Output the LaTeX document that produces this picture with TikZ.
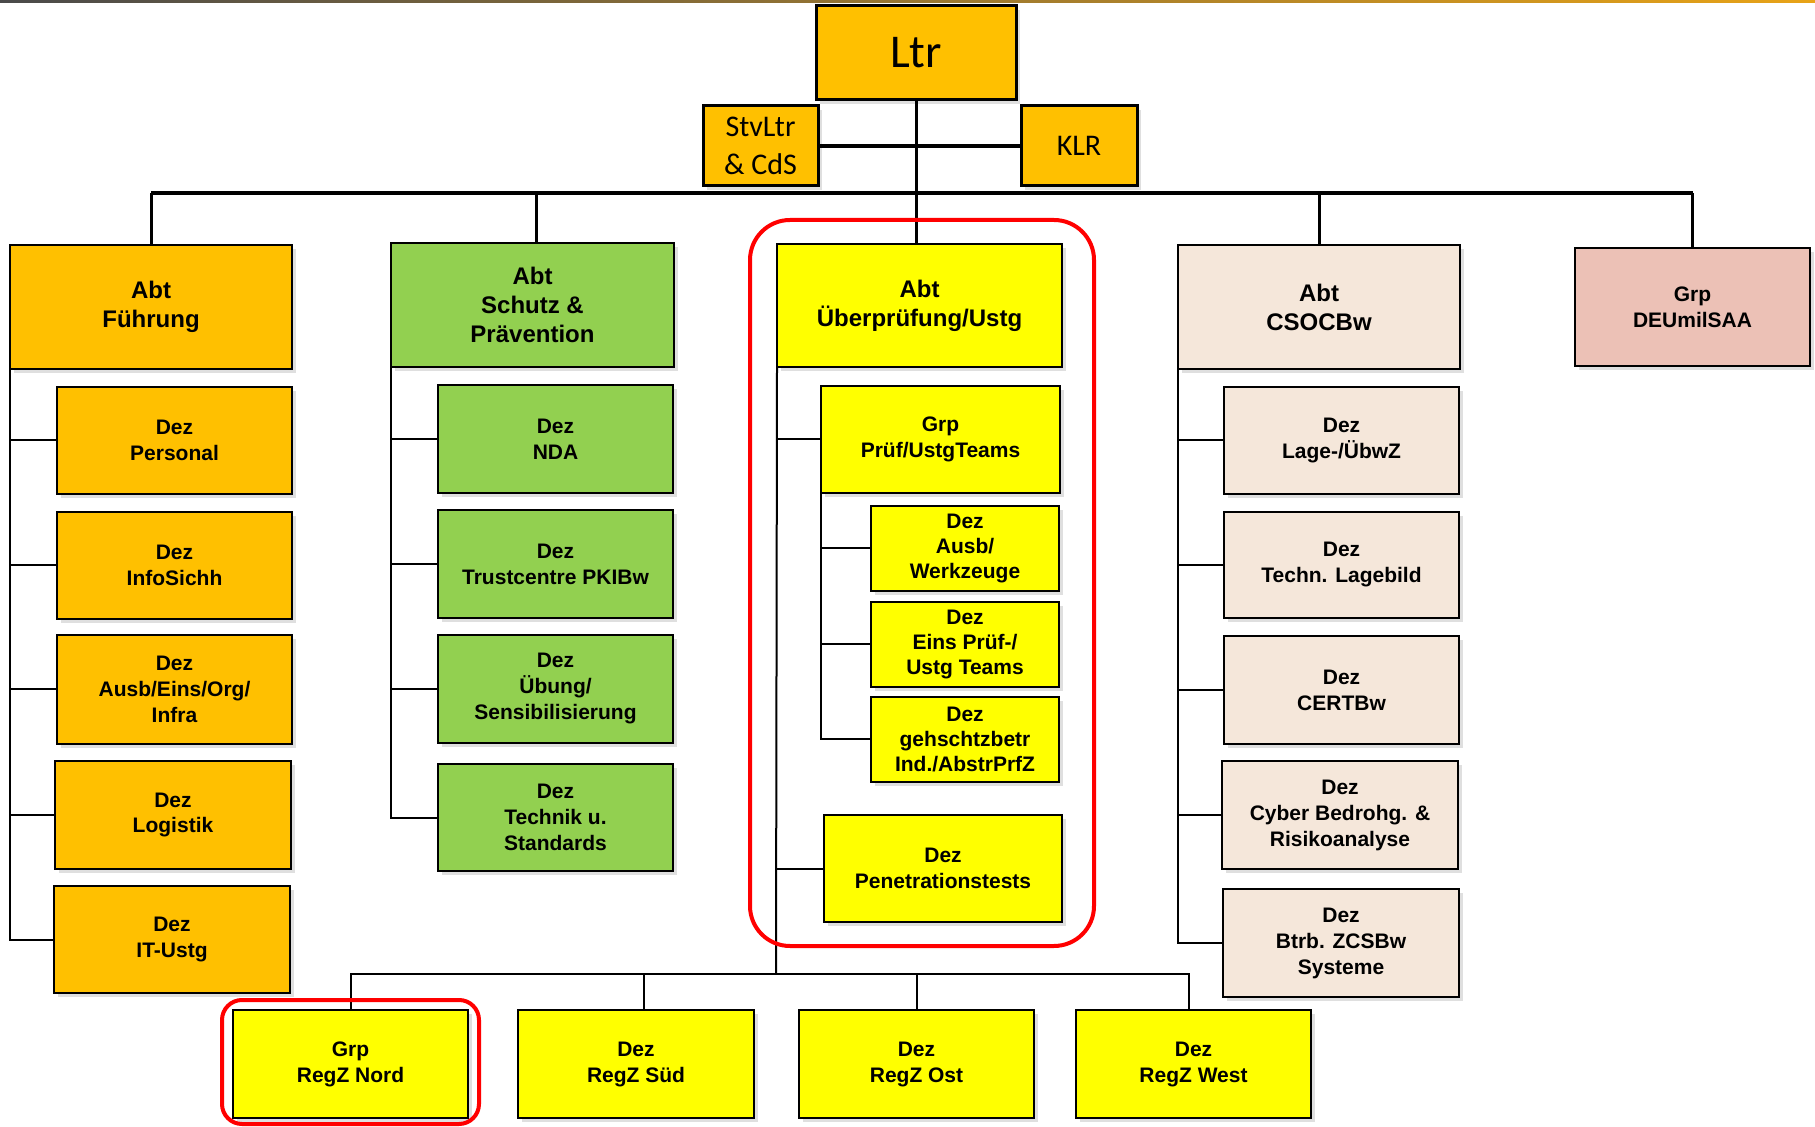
\documentclass[tikz,border=0pt]{standalone}
\usepackage{fontspec}
\setmainfont{Liberation Sans}
\newfontfamily\calib{Carlito}
\usetikzlibrary{shadows}
\definecolor{cOrange}{HTML}{FFC000}
\definecolor{cGreen}{HTML}{92D050}
\definecolor{cYellow}{HTML}{FFFF00}
\definecolor{cBeige}{HTML}{F5E7DA}
\definecolor{cPink}{HTML}{ECC1B6}
\definecolor{cRed}{HTML}{FF0000}
\definecolor{cTopL}{HTML}{4A4A4A}
\definecolor{cTopR}{HTML}{E8A317}
\tikzset{
  box/.style={draw=black, line width=1.2pt, inner sep=0pt, outer sep=0pt, align=center,
    drop shadow={shadow xshift=2pt, shadow yshift=-2pt, opacity=0.25}},
  dez/.style={box, font=\bfseries\fontsize{10.5}{13}\selectfont},
  abt/.style={box, font=\bfseries\fontsize{12}{14.5}\selectfont},
  top/.style={box, line width=1.5pt, fill=cOrange},
  conn/.style={line width=1pt},
  bus/.style={line width=2pt},
  hilite/.style={draw=cRed, line width=2pt}
}
\newcommand\bx[7]{\node[#6,minimum width={(#4-#2)*0.5pt},minimum height={(#5-#3)*0.5pt}] (#1) at ({(#2+#4)/2},{(#3+#5)/2}) {#7};}
\begin{document}
\begin{tikzpicture}[x=0.5pt,y=-0.5pt]
\useasboundingbox (0,0) rectangle (1815,1127);
\shade[left color=cTopL, right color=cTopR] (0,0) rectangle (1815,2.5);

% top nodes
\bx{ltr}{816}{6}{1016}{100}{top,font=\calib\fontsize{23.5}{28}\selectfont}{Ltr}
\bx{stv}{703}{106}{818}{186}{top,font=\calib\fontsize{15}{19}\selectfont}{StvLtr\\\& CdS}
\bx{klr}{1021}{106}{1137}{186}{top,font=\calib\fontsize{15}{19}\selectfont}{KLR}

% departments
\bx{fuehr}{10}{245}{292}{369}{abt,fill=cOrange}{Abt\\Führung}
\bx{schutz}{391}{243}{674}{367}{abt,fill=cGreen}{Abt\\Schutz \&\\Prävention}
\bx{ueb}{777}{244}{1062}{367}{abt,fill=cYellow}{Abt\\Überprüfung/Ustg}
\bx{csoc}{1178}{245}{1460}{369}{abt,fill=cBeige}{Abt\\CSOCBw}
\bx{deu}{1575}{248}{1810}{366}{dez,fill=cPink}{Grp\\DEUmilSAA}

% Führung
\bx{pers}{57}{387}{292}{494}{dez,fill=cOrange}{Dez\\Personal}
\bx{info}{57}{512}{292}{619}{dez,fill=cOrange}{Dez\\InfoSichh}
\bx{ausb}{57}{635}{292}{744}{dez,fill=cOrange}{Dez\\Ausb/Eins/Org/\\Infra}
\bx{logi}{55}{761}{291}{869}{dez,fill=cOrange}{Dez\\Logistik}
\bx{itu}{54}{886}{290}{993}{dez,fill=cOrange}{Dez\\IT-Ustg}

% Schutz
\bx{nda}{438}{385}{673}{493}{dez,fill=cGreen}{Dez\\NDA}
\bx{trust}{438}{510}{673}{618}{dez,fill=cGreen}{Dez\\Trustcentre PKIBw}
\bx{uebung}{438}{635}{673}{743}{dez,fill=cGreen}{Dez\\Übung/\\Sensibilisierung}
\bx{tech}{438}{764}{673}{871}{dez,fill=cGreen}{Dez\\Technik u.\\Standards}

% Überprüfung
\bx{grp}{821}{386}{1060}{493}{dez,fill=cYellow}{Grp\\Prüf/UstgTeams}
\bx{werk}{871}{506}{1059}{591}{dez,fill=cYellow,font=\bfseries\fontsize{10.5}{12.5}\selectfont}{Dez\\Ausb/\\Werkzeuge}
\bx{eins}{871}{602}{1059}{687}{dez,fill=cYellow,font=\bfseries\fontsize{10.5}{12.5}\selectfont}{Dez\\Eins Prüf-/\\Ustg Teams}
\bx{geh}{871}{697}{1059}{782}{dez,fill=cYellow,font=\bfseries\fontsize{10.5}{12.5}\selectfont}{Dez\\gehschtzbetr\\Ind./AbstrPrfZ}
\bx{pen}{824}{815}{1062}{922}{dez,fill=cYellow}{Dez\\Penetrationstests}

% CSOCBw
\bx{lage}{1224}{387}{1459}{494}{dez,fill=cBeige}{Dez\\Lage-/ÜbwZ}
\bx{lagebild}{1224}{512}{1459}{618}{dez,fill=cBeige}{Dez\\Techn. Lagebild}
\bx{cert}{1224}{636}{1459}{744}{dez,fill=cBeige}{Dez\\CERTBw}
\bx{cyber}{1222}{761}{1458}{869}{dez,fill=cBeige}{Dez\\Cyber Bedrohg. \&\\Risikoanalyse}
\bx{btrb}{1223}{889}{1459}{997}{dez,fill=cBeige}{Dez\\Btrb. ZCSBw\\Systeme}

% regional
\bx{nord}{233}{1010}{468}{1118}{dez,fill=cYellow}{Grp\\RegZ Nord}
\bx{sued}{518}{1010}{754}{1118}{dez,fill=cYellow}{Dez\\RegZ Süd}
\bx{ost}{799}{1010}{1034}{1118}{dez,fill=cYellow}{Dez\\RegZ Ost}
\bx{west}{1076}{1010}{1311}{1118}{dez,fill=cYellow}{Dez\\RegZ West}

% coordinates for buses
\coordinate (bus) at (917,193);
\coordinate (bb) at (776,974);
\coordinate (schtop) at ([xshift=2.2pt]schutz.north);
\coordinate (suedtop) at ([xshift=4pt]sued.north);
\coordinate (westtop) at ([xshift=-2.5pt]west.north);

% top connectors
\draw[line width=1.5pt] (ltr.south) -- (ltr.south |- ueb.north);
\draw[bus] (stv.east) -- (klr.west);
\draw[bus] (fuehr.north |- bus) -- (deu.north |- bus);
\draw[line width=1.5pt] (fuehr.north) -- (fuehr.north |- bus);
\draw[line width=1.5pt] (schtop) -- (schtop |- bus);
\draw[line width=1.5pt] (csoc.north) -- (csoc.north |- bus);
\draw[line width=1.5pt] (deu.north) -- (deu.north |- bus);

% Führung branches
\draw[conn] (fuehr.south west) |- (itu.west);
\foreach \n in {pers,info,ausb,logi} \draw[conn] (fuehr.south west |- \n.west) -- (\n.west);
% Schutz branches
\draw[conn] (schutz.south west) |- (tech.west);
\foreach \n in {nda,trust,uebung} \draw[conn] (schutz.south west |- \n.west) -- (\n.west);
% CSOCBw branches
\draw[conn] (csoc.south west) |- (btrb.west);
\foreach \n in {lage,lagebild,cert,cyber} \draw[conn] (csoc.south west |- \n.west) -- (\n.west);
% Überprüfung branches
\draw[conn] (ueb.south west) -- (bb);
\draw[conn] (ueb.south west |- grp.west) -- (grp.west);
\draw[conn] (ueb.south west |- pen.west) -- (pen.west);
\draw[conn] (grp.south west) |- (geh.west);
\foreach \n in {werk,eins} \draw[conn] (grp.south west |- \n.west) -- (\n.west);
% regional bus
\draw[conn] (nord.north) -- (nord.north |- bb) -- (westtop |- bb) -- (westtop);
\draw[conn] (suedtop) -- (suedtop |- bb);
\draw[conn] (ost.north) -- (ost.north |- bb);

% highlights
\draw[hilite, rounded corners=20pt] (750,220) rectangle (1094,946);
\draw[hilite, rounded corners=10pt] (222,1000) rectangle (479,1124);
\end{tikzpicture}
\end{document}
